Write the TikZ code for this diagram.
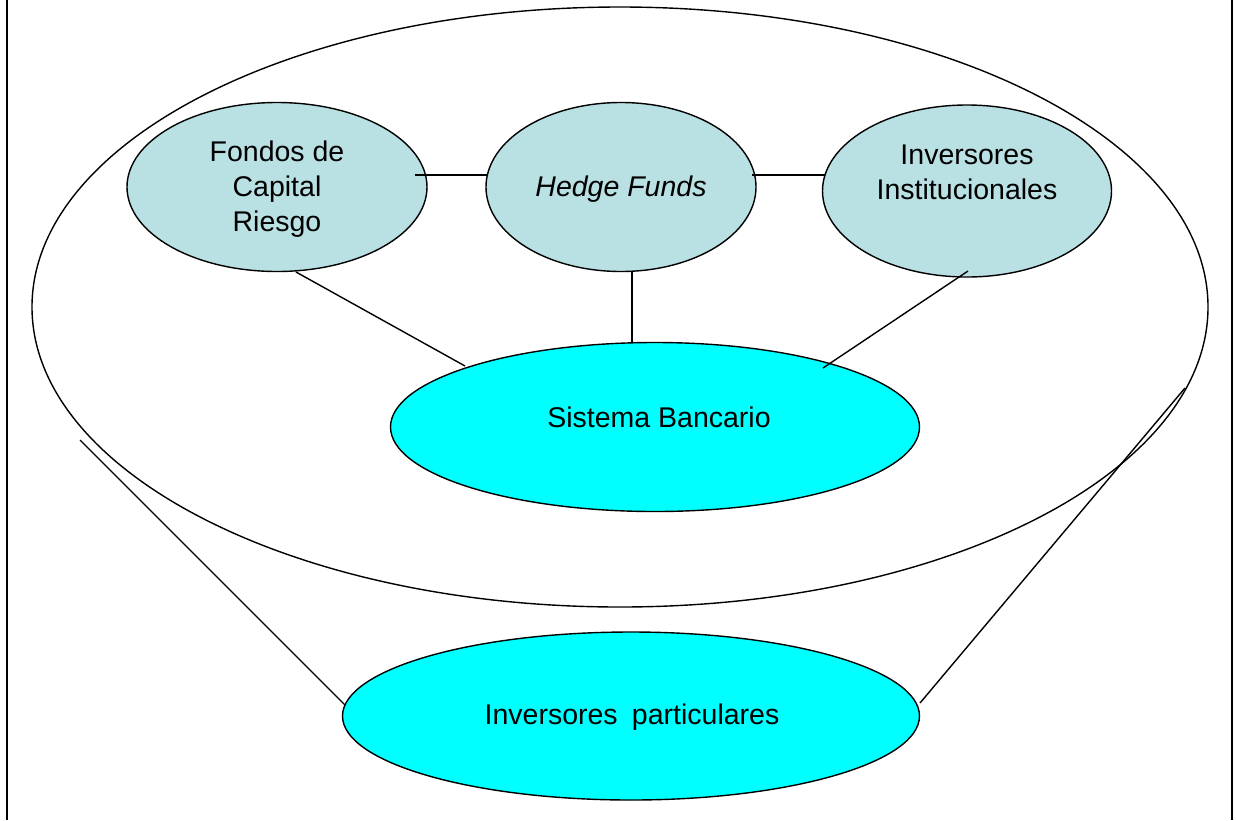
\documentclass[tikz,border=0pt]{standalone}
\usepackage{fontspec}
\setmainfont{Liberation Sans}
\usetikzlibrary{shapes.geometric}
\definecolor{lightteal}{HTML}{B9E0E3}
\definecolor{brightcyan}{HTML}{00FFFF}
\tikzset{
  x=1pt, y=-1pt,
  oval/.style={ellipse, draw=black, line width=1.4pt, inner sep=0pt},
  light/.style={oval, fill=lightteal},
  bright/.style={oval, fill=brightcyan},
  txt/.style={inner sep=0pt, align=center, font=\fontsize{28.5}{35}\selectfont},
  conn/.style={line width=1.4pt},
}
\begin{document}
\begin{tikzpicture}
\useasboundingbox (0,0) rectangle (1236,820);
\fill[white] (0,0) rectangle (1236,820);
\draw[line width=2pt] (7,0) -- (7,820);
\draw[line width=2.5pt] (1232,0) -- (1232,820);
\node[oval, minimum width=1176, minimum height=600] (outer) at (620,307) {};
\node[light, minimum width=300, minimum height=169] (fondos) at (277,187) {};
\node[light, minimum width=270, minimum height=169] (hedge) at (621,187) {};
\node[light, minimum width=289, minimum height=172] (inst) at (967,191) {};
\node[bright, minimum width=529, minimum height=169] (banco) at (655,427) {};
\node[bright, minimum width=577, minimum height=168] (part) at (631,716) {};
\node[txt] (fondosT) at (277,189) {Fondos de\\Capital\\Riesgo};
\node[txt] (hedgeT) at (621,189) {\itshape Hedge Funds};
\node[txt] (instT) at (967,172) {Inversores\\Institucionales};
\node[txt] (bancoT) at (659,417) {Sistema Bancario};
\node[txt] (partT) at (632,717) {Inversores\enspace particulares};
\coordinate (a1) at (415,175);
\coordinate (a2) at (487,175);
\coordinate (b1) at (752,175);
\coordinate (b2) at (825,175);
\coordinate (c1) at (296,272);
\coordinate (c2) at (465,366);
\coordinate (d1) at (632,272);
\coordinate (d2) at (632,343);
\coordinate (e1) at (968,271);
\coordinate (e2) at (823,368);
\coordinate (f1) at (80,440);
\coordinate (f2) at (345,705);
\coordinate (g1) at (1185,388);
\coordinate (g2) at (920,703);
\draw[conn] (a1) -- (a2);
\draw[conn] (b1) -- (b2);
\draw[conn] (c1) -- (c2);
\draw[conn] (d1) -- (d2);
\draw[conn] (e1) -- (e2);
\draw[conn] (f1) -- (f2);
\draw[conn] (g1) -- (g2);
\end{tikzpicture}
\end{document}
